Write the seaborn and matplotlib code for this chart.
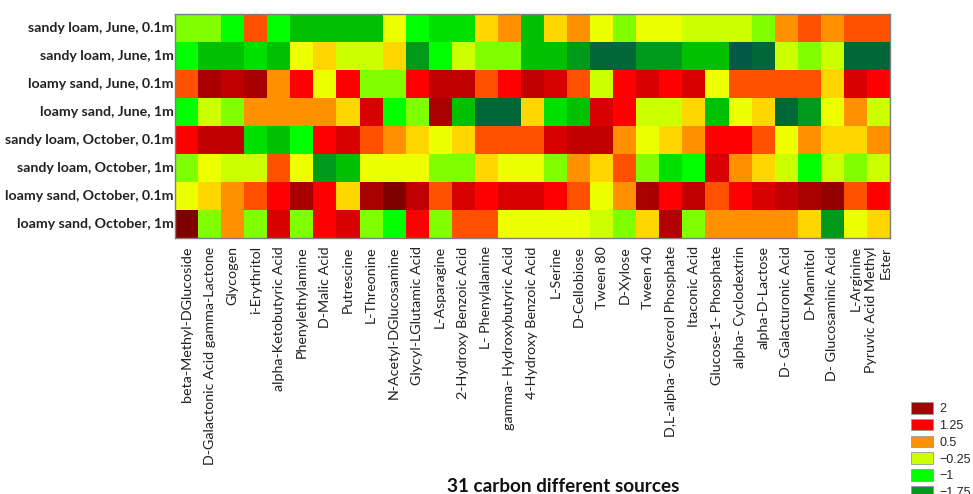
import numpy as np
import pandas as pd
import matplotlib
matplotlib.use("Agg")
import matplotlib.pyplot as plt
import seaborn as sns
from matplotlib.colors import LinearSegmentedColormap, Normalize
from matplotlib.patches import Patch

sns.set_style("white")
plt.rcParams['font.family'] = ['Lato', 'DejaVu Sans']

samples = ["sandy loam, June, 0.1m", "sandy loam, June, 1m", "loamy sand, June, 0.1m",
           "loamy sand, June, 1m", "sandy loam, October, 0.1m", "sandy loam, October, 1m",
           "loamy sand, October, 0.1m", "loamy sand, October, 1m"]

sources = ["beta-Methyl-DGlucoside", "D-Galactonic Acid gamma-Lactone", "Glycogen", "i-Erythritol",
           "alpha-Ketobutyric Acid", "Phenylethylamine", "D-Malic Acid", "Putrescine", "L-Threonine",
           "N-Acetyl-DGlucosamine", "Glycyl-LGlutamic Acid", "L-Asparagine", "2-Hydroxy Benzoic Acid",
           "L- Phenylalanine", "gamma- Hydroxybutyric Acid", "4-Hydroxy Benzoic Acid", "L-Serine",
           "D-Cellobiose", "Tween 80", "D-Xylose", "Tween 40", "D,L-alpha- Glycerol Phosphate",
           "Itaconic Acid", "Glucose-1- Phosphate", "alpha- Cyclodextrin", "alpha-D-Lactose",
           "D- Galacturonic Acid", "D-Mannitol", "D- Glucosaminic Acid", "L-Arginine",
           "Pyruvic Acid Methyl\nEster"]

sl_jun_01 = [-0.6, -0.6, -1.0, 0.9, -1.0, -1.45, -1.45, -1.45, -1.45, 0.0, -1.0, -1.2, -1.2, 0.2, 0.5,
             -1.45, 0.2, 0.5, 0.0, -0.6, 0.0, 0.0, -0.25, -0.25, -0.25, -0.6, 0.5, 0.9, 0.5, 0.9, 0.9]
sl_jun_1 = [-1.0, -1.45, -1.45, -1.2, -1.45, 0.0, 0.2, -0.25, -0.25, 0.2, -1.75, -1.0, -0.25, -0.6, -0.6,
            -1.45, -1.45, -1.75, -2.1, -2.1, -1.75, -1.75, -1.45, -1.45, -2.4, -2.1, -0.25, -0.6, -0.25, -2.1, -2.1]
ls_jun_01 = [0.9, 2.0, 1.75, 2.0, 0.5, 1.25, 0.0, 1.25, -0.6, -0.6, 1.25, 1.75, 1.75, 0.9, 1.25,
             1.75, 1.5, 0.9, -0.25, 1.25, 1.5, 1.25, 1.5, 0.0, 0.9, 0.9, 0.9, 0.9, 0.2, 1.5, 1.25]
ls_jun_1 = [-1.0, -0.25, -0.6, 0.5, 0.5, 0.5, 0.5, 0.2, 1.5, -1.0, -0.6, 2.0, -1.45, -2.1, -2.1,
            0.2, -1.2, -1.45, 1.5, 1.25, -0.25, -0.25, 0.2, -1.45, 0.0, 0.2, -2.1, -1.75, 0.0, 0.5, -0.25]
sl_oct_01 = [1.25, 1.75, 1.75, -1.2, -1.45, -1.0, 1.25, 1.5, 0.9, 0.5, 0.2, 0.0, 0.2, 0.9, 0.9,
             0.9, 1.5, 1.75, 1.75, 0.5, 0.0, 0.2, 0.5, 1.25, 1.25, 0.9, 0.0, 0.5, 0.2, 0.2, 0.5]
sl_oct_1 = [-0.6, 0.0, -0.25, -0.25, 0.9, 0.0, -1.75, -1.45, 0.0, 0.0, 0.0, -0.6, -0.6, 0.2, 0.0,
            0.0, -0.6, 0.5, 0.2, 0.9, -0.6, -1.2, -1.0, 1.5, 0.5, 0.2, -0.25, -1.0, -0.25, -0.6, -0.25]
ls_oct_01 = [0.0, 0.2, 0.5, 0.9, 1.25, 2.0, 1.25, 0.2, 2.0, 2.3, 1.75, 0.9, 1.5, 1.25, 1.5,
             1.5, 1.25, 0.9, 0.0, 0.5, 2.0, 1.25, 1.75, 0.9, 1.25, 1.5, 1.75, 2.0, 2.15, 0.9, 1.25]
ls_oct_1 = [2.3, -0.6, 0.5, -0.6, 1.5, -0.6, 1.25, 1.5, -0.6, -1.0, 1.25, -0.6, 0.9, 0.9, 0.0,
            0.0, 0.0, 0.0, -0.25, -0.6, 0.2, 1.9, -0.6, 0.5, 0.5, 0.5, 0.5, 0.2, -1.75, 0.0, 0.2]

legend_levels = [2, 1.25, 0.5, -0.25, -1, -1.75]
legend_labels = ["2", "1.25", "0.5", "\u22120.25", "\u22121", "\u22121.75"]

data = pd.DataFrame([sl_jun_01, sl_jun_1, ls_jun_01, ls_jun_1, sl_oct_01, sl_oct_1, ls_oct_01, ls_oct_1],
                    index=samples, columns=sources)

anchors = [(-2.4, '#005a46'), (-2.1, '#006838'), (-1.75, '#009a1a'), (-1.45, '#00c000'),
           (-1.2, '#00e000'), (-1.0, '#00ff00'), (-0.6, '#80ff00'), (-0.25, '#ccff00'),
           (0.0, '#eeff00'), (0.2, '#ffd700'), (0.5, '#ff9000'), (0.9, '#ff5000'),
           (1.25, '#ff0000'), (1.5, '#d80000'), (1.75, '#c00000'), (2.0, '#a80000'), (2.3, '#800000')]
vmin, vmax = anchors[0][0], anchors[-1][0]
cmap = LinearSegmentedColormap.from_list(
    "gyr", [((v - vmin) / (vmax - vmin), c) for v, c in anchors], N=1024)
norm = Normalize(vmin=vmin, vmax=vmax)

fig = plt.figure(figsize=(9.73, 4.94), dpi=100)
ax = fig.add_axes([175 / 973, 1 - 238 / 494, 715 / 973, 224 / 494])
sns.heatmap(data, cmap=cmap, vmin=vmin, vmax=vmax, cbar=False, ax=ax, linewidths=0)

for s in ax.spines.values():
    s.set_visible(True)
    s.set_color('#7f7f7f')
    s.set_linewidth(1.0)

ax.set_xticks(np.arange(len(sources)) + 0.5)
ax.set_xticklabels(sources, rotation=90, ha='center', va='top', multialignment='right',
                   fontsize=10.3, color='#222222', linespacing=1.3)
ax.set_xticks(np.arange(4.5, len(sources), 5), minor=True)
ax.tick_params(axis='x', which='major', length=0, pad=6)
ax.tick_params(axis='x', which='minor', direction='in', top=True, bottom=True, length=3,
               width=0.8, color='#333333')
ax.set_yticks(np.arange(len(samples)) + 0.5)
ax.set_yticklabels(samples, rotation=0, fontsize=10.2, fontweight='bold', color='#222222')
ax.tick_params(axis='y', which='major', direction='in', left=True, right=True, length=3,
               width=0.8, color='#333333', pad=1)
ax.set_xlabel("")
ax.set_ylabel("")

fig.text(563 / 973, 1 - 486 / 494, "31 carbon different sources", ha='center', va='center',
         fontsize=13.6, fontweight='bold', color='#111111')

handles = [Patch(facecolor=cmap(norm(v)), edgecolor='#999999', linewidth=0.6) for v in legend_levels]
fig.legend(handles, legend_labels, loc='upper left', bbox_to_anchor=(911 / 973, 1 - 402 / 494),
           frameon=False, borderpad=0, borderaxespad=0, handlelength=1.75, handleheight=1.05,
           handletextpad=0.5, labelspacing=0.3,
           prop={'family': 'Liberation Sans', 'size': 9})

fig.savefig("out.png", dpi=100)
